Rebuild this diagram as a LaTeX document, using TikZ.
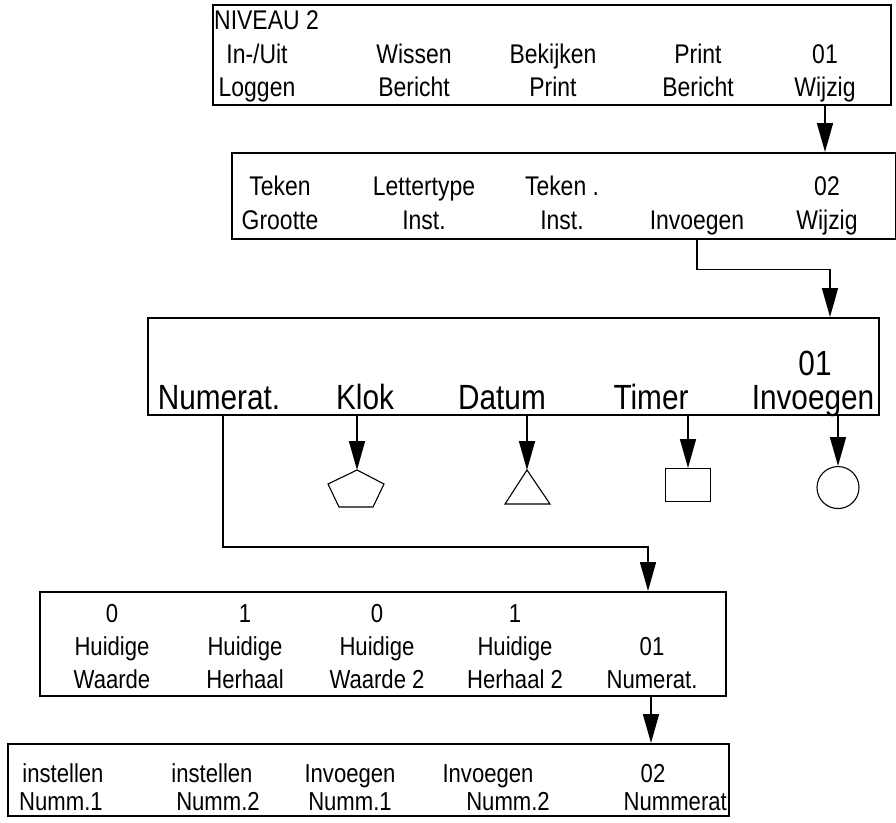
\documentclass[tikz,border=0pt]{standalone}
\usepackage{fontspec}
\setmainfont{Liberation Sans}[FakeStretch=0.85]
\usetikzlibrary{arrows.meta, positioning, calc}
\tikzset{
    panel/.style={rectangle, draw=black, line width=2.4pt, inner sep=0pt, anchor=north west},
    key/.style={inner sep=0pt, anchor=base, font=\fontsize{27}{27}\selectfont},
    bigkey/.style={key, font=\fontsize{35}{35}\selectfont},
    smallkey/.style={key, font=\fontsize{26}{26}\selectfont},
    line/.style={-{Triangle[length=29pt, width=16pt]}, line width=1.6pt},
    glyph/.style={draw=black, line width=1.1pt}
}

\begin{document}
\begin{tikzpicture}[x=1pt, y=-1pt]
    \useasboundingbox (0,0) rectangle (896,822);

    % 1. NIVEAU 2 menu
    \node[panel, minimum width=678pt, minimum height=100pt] (lvl) at (212,4) {};
    \node[key, anchor=base west] (lvlname) at (214,29) {NIVEAU 2};
    \foreach \x/\a/\b [count=\i] in {257/{In-/Uit}/Loggen, 414/Wissen/Bericht,
        553/Bekijken/Print, 698/Print/Bericht, 825/01/Wijzig} {
        \node[key] (lvl-a\i) at (\x,63) {\a};
        \node[key] (lvl-b\i) at (\x,96) {\b};
    }

    % 2. 02 Wijzig menu
    \node[panel, minimum width=664pt, minimum height=86pt] (edit) at (231,152) {};
    \foreach \x/\a/\b [count=\i] in {280/Teken/Grootte, 424/Lettertype/Inst.,
        562/{Teken .}/Inst., 697/{}/Invoegen, 827/02/Wijzig} {
        \node[key] (edit-a\i) at (\x,195) {\a};
        \node[key] (edit-b\i) at (\x,229) {\b};
    }

    % 3. 01 Invoegen menu
    \node[panel, minimum width=731pt, minimum height=97pt] (ins) at (147,317) {};
    \node[bigkey] (ins-a5) at (815,375) {01};
    \foreach \x/\b [count=\i] in {219/Numerat., 365/Klok, 502/Datum, 651/Timer, 813/Invoegen} {
        \node[bigkey] (ins-b\i) at (\x,409) {\b};
    }

    % symbolen onder het menu
    \coordinate (clk) at (357,470);
    \draw[glyph] (clk) -- ++(27,14) -- ++(-11,23) -- ++(-34,0) -- ++(-11,-23) -- cycle;
    \coordinate (date) at (527,470);
    \draw[glyph] (date) -- ++(23,34) -- ++(-45,0) -- cycle;
    \node[glyph, minimum width=45pt, minimum height=33pt, inner sep=0pt, anchor=north] (tmr) at (688,468) {};
    \node[glyph, circle, minimum size=42pt, inner sep=0pt, anchor=north] (ins-cnt) at (838,466) {};

    \draw[line] (ins.south -| clk) -- (clk);
    \draw[line] (ins.south -| date) -- (date);
    \draw[line] (ins.south -| tmr) -- (tmr.north);
    \draw[line] (ins.south -| ins-cnt) -- (ins-cnt.north);

    % 4. 01 Numerat. menu
    \node[panel, minimum width=686pt, minimum height=104pt] (num) at (39,591) {};
    \foreach \x/\a/\b/\c [count=\i] in {112/0/Huidige/Waarde, 245/1/Huidige/Herhaal,
        377/0/Huidige/{Waarde 2}, 515/1/Huidige/{Herhaal 2}, 652/{}/01/Numerat.} {
        \node[smallkey] (num-a\i) at (\x,622) {\a};
        \node[smallkey] (num-b\i) at (\x,655) {\b};
        \node[smallkey] (num-c\i) at (\x,688) {\c};
    }

    % 5. 02 Nummerat menu
    \node[panel, minimum width=721pt, minimum height=72pt] (cnt) at (7,743) {};
    \node[smallkey] (cnt-a1) at (63,782) {instellen};
    \node[smallkey] (cnt-b1) at (61,810) {Numm.1};
    \node[smallkey] (cnt-a2) at (212,782) {instellen};
    \node[smallkey] (cnt-b2) at (218,810) {Numm.2};
    \node[smallkey] (cnt-a3) at (350,782) {Invoegen};
    \node[smallkey] (cnt-b3) at (350,810) {Numm.1};
    \node[smallkey] (cnt-a4) at (488,782) {Invoegen};
    \node[smallkey] (cnt-b4) at (508,810) {Numm.2};
    \node[smallkey] (cnt-a5) at (653,782) {02};
    \node[smallkey, anchor=base east] (cnt-b5) at (727,810) {Nummerat};

    % verbindingen tussen de menu's
    \draw[line] (lvl.south -| 825,0) -- (edit.north -| 825,0);
    \draw[line] (edit.south -| edit-b4) -- ++(0,29) -| (ins.north -| 830,0);
    \draw[line] (ins.south -| 223,0) -- (223,547) -| (num.north -| 648,0);
    \draw[line] (num.south -| 651,0) -- (cnt.north -| 651,0);
\end{tikzpicture}
\end{document}
